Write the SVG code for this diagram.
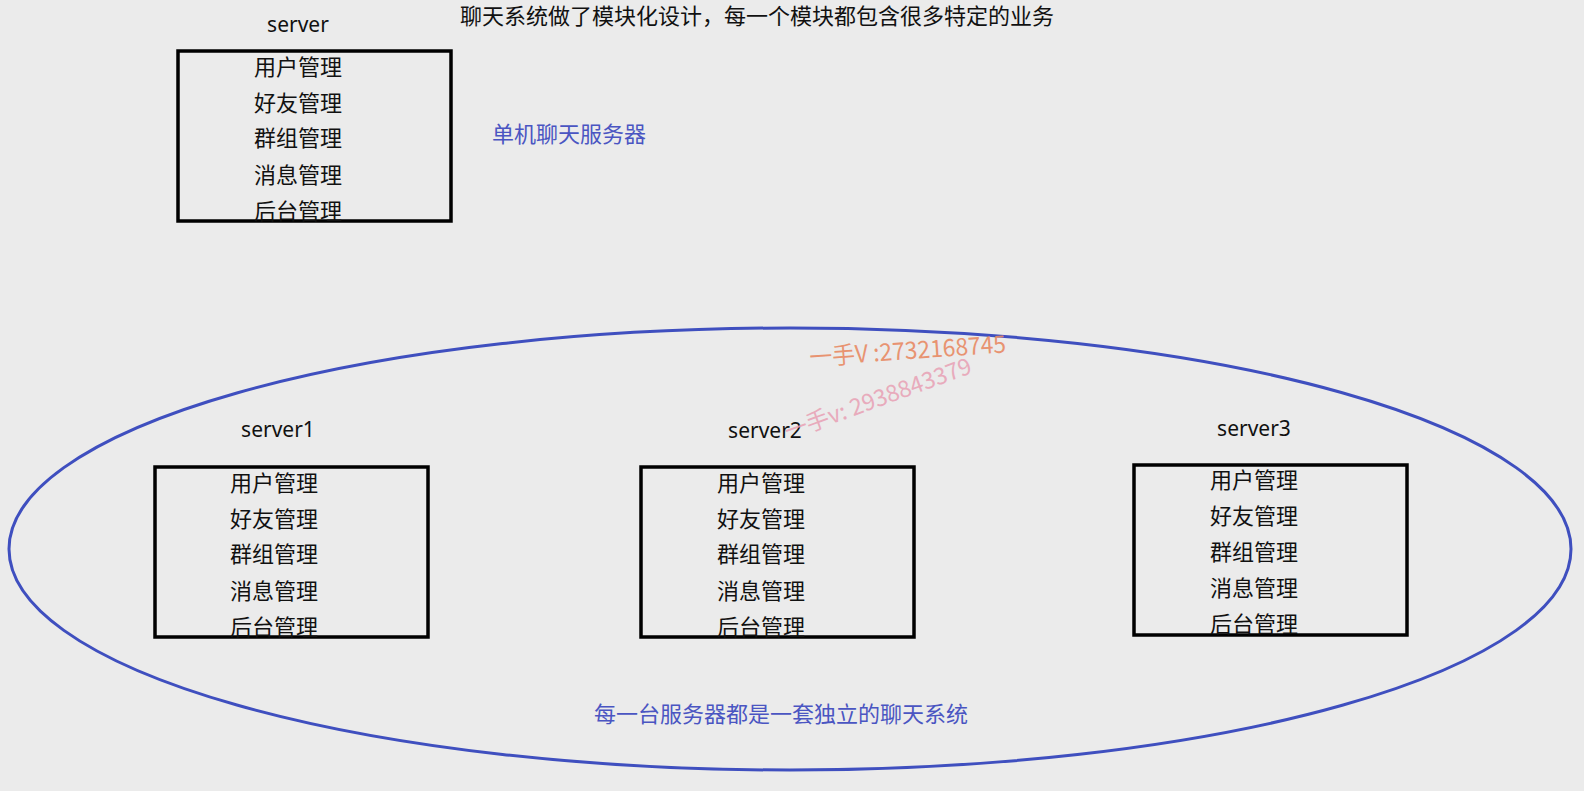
<svg xmlns="http://www.w3.org/2000/svg" width="1584" height="791" viewBox="0 0 1584 791">
<style>
.t{font-family:"Noto Sans CJK SC","Noto Sans",sans-serif;font-size:22px;fill:#111;text-anchor:middle;dominant-baseline:central}
.lbl{font-family:"Noto Sans","Noto Sans CJK SC",sans-serif;font-size:21px;fill:#111;text-anchor:middle;dominant-baseline:central}
.blue{font-family:"Noto Sans CJK SC",sans-serif;font-size:22px;fill:#4a55c2;dominant-baseline:central}
.box{fill:none;stroke:#000;stroke-width:3.5}
</style>
<rect width="1584" height="791" fill="#ebebeb"/>
<g id="connectors">
<ellipse cx="790" cy="549" rx="781" ry="221" fill="none" stroke="#3f4fbf" stroke-width="3"/>
</g>
<text class="t" x="460" y="14" style="text-anchor:start">聊天系统做了模块化设计，每一个模块都包含很多特定的业务</text>
<text class="blue" x="492" y="132">单机聊天服务器</text>
<g id="server">
<text class="lbl" x="298" y="24">server</text>
<rect class="box" x="178" y="51" width="273" height="170"/>
<text class="t" x="298" y="65">用户管理</text>
<text class="t" x="298" y="101">好友管理</text>
<text class="t" x="298" y="136">群组管理</text>
<text class="t" x="298" y="173">消息管理</text>
<text class="t" x="298" y="209">后台管理</text>
</g>
<g id="server1">
<text class="lbl" x="278" y="429">server1</text>
<rect class="box" x="155" y="467" width="273" height="170"/>
<text class="t" x="274" y="481">用户管理</text>
<text class="t" x="274" y="517">好友管理</text>
<text class="t" x="274" y="552">群组管理</text>
<text class="t" x="274" y="589">消息管理</text>
<text class="t" x="274" y="625">后台管理</text>
</g>
<g id="server2">
<text class="lbl" x="765" y="430">server2</text>
<rect class="box" x="641" y="467" width="273" height="170"/>
<text class="t" x="761" y="481">用户管理</text>
<text class="t" x="761" y="517">好友管理</text>
<text class="t" x="761" y="552">群组管理</text>
<text class="t" x="761" y="589">消息管理</text>
<text class="t" x="761" y="625">后台管理</text>
</g>
<g id="server3">
<text class="lbl" x="1254" y="428">server3</text>
<rect class="box" x="1134" y="465" width="273" height="170"/>
<text class="t" x="1254" y="478">用户管理</text>
<text class="t" x="1254" y="514">好友管理</text>
<text class="t" x="1254" y="550">群组管理</text>
<text class="t" x="1254" y="586">消息管理</text>
<text class="t" x="1254" y="622">后台管理</text>
</g>
<text class="blue" x="781" y="712" style="text-anchor:middle">每一台服务器都是一套独立的聊天系统</text>
<text x="810" y="366" transform="rotate(-4 810 366)" style="font-family:'Noto Sans CJK SC',sans-serif;font-size:24px;fill:#e88a64;opacity:0.9" textLength="197" lengthAdjust="spacingAndGlyphs">一手V :2732168745</text>
<text x="788" y="440" transform="rotate(-20 788 440)" style="font-family:'Noto Sans CJK SC',sans-serif;font-size:23px;fill:#e8a0b4;opacity:0.85">一手v: 2938843379</text>
</svg>
